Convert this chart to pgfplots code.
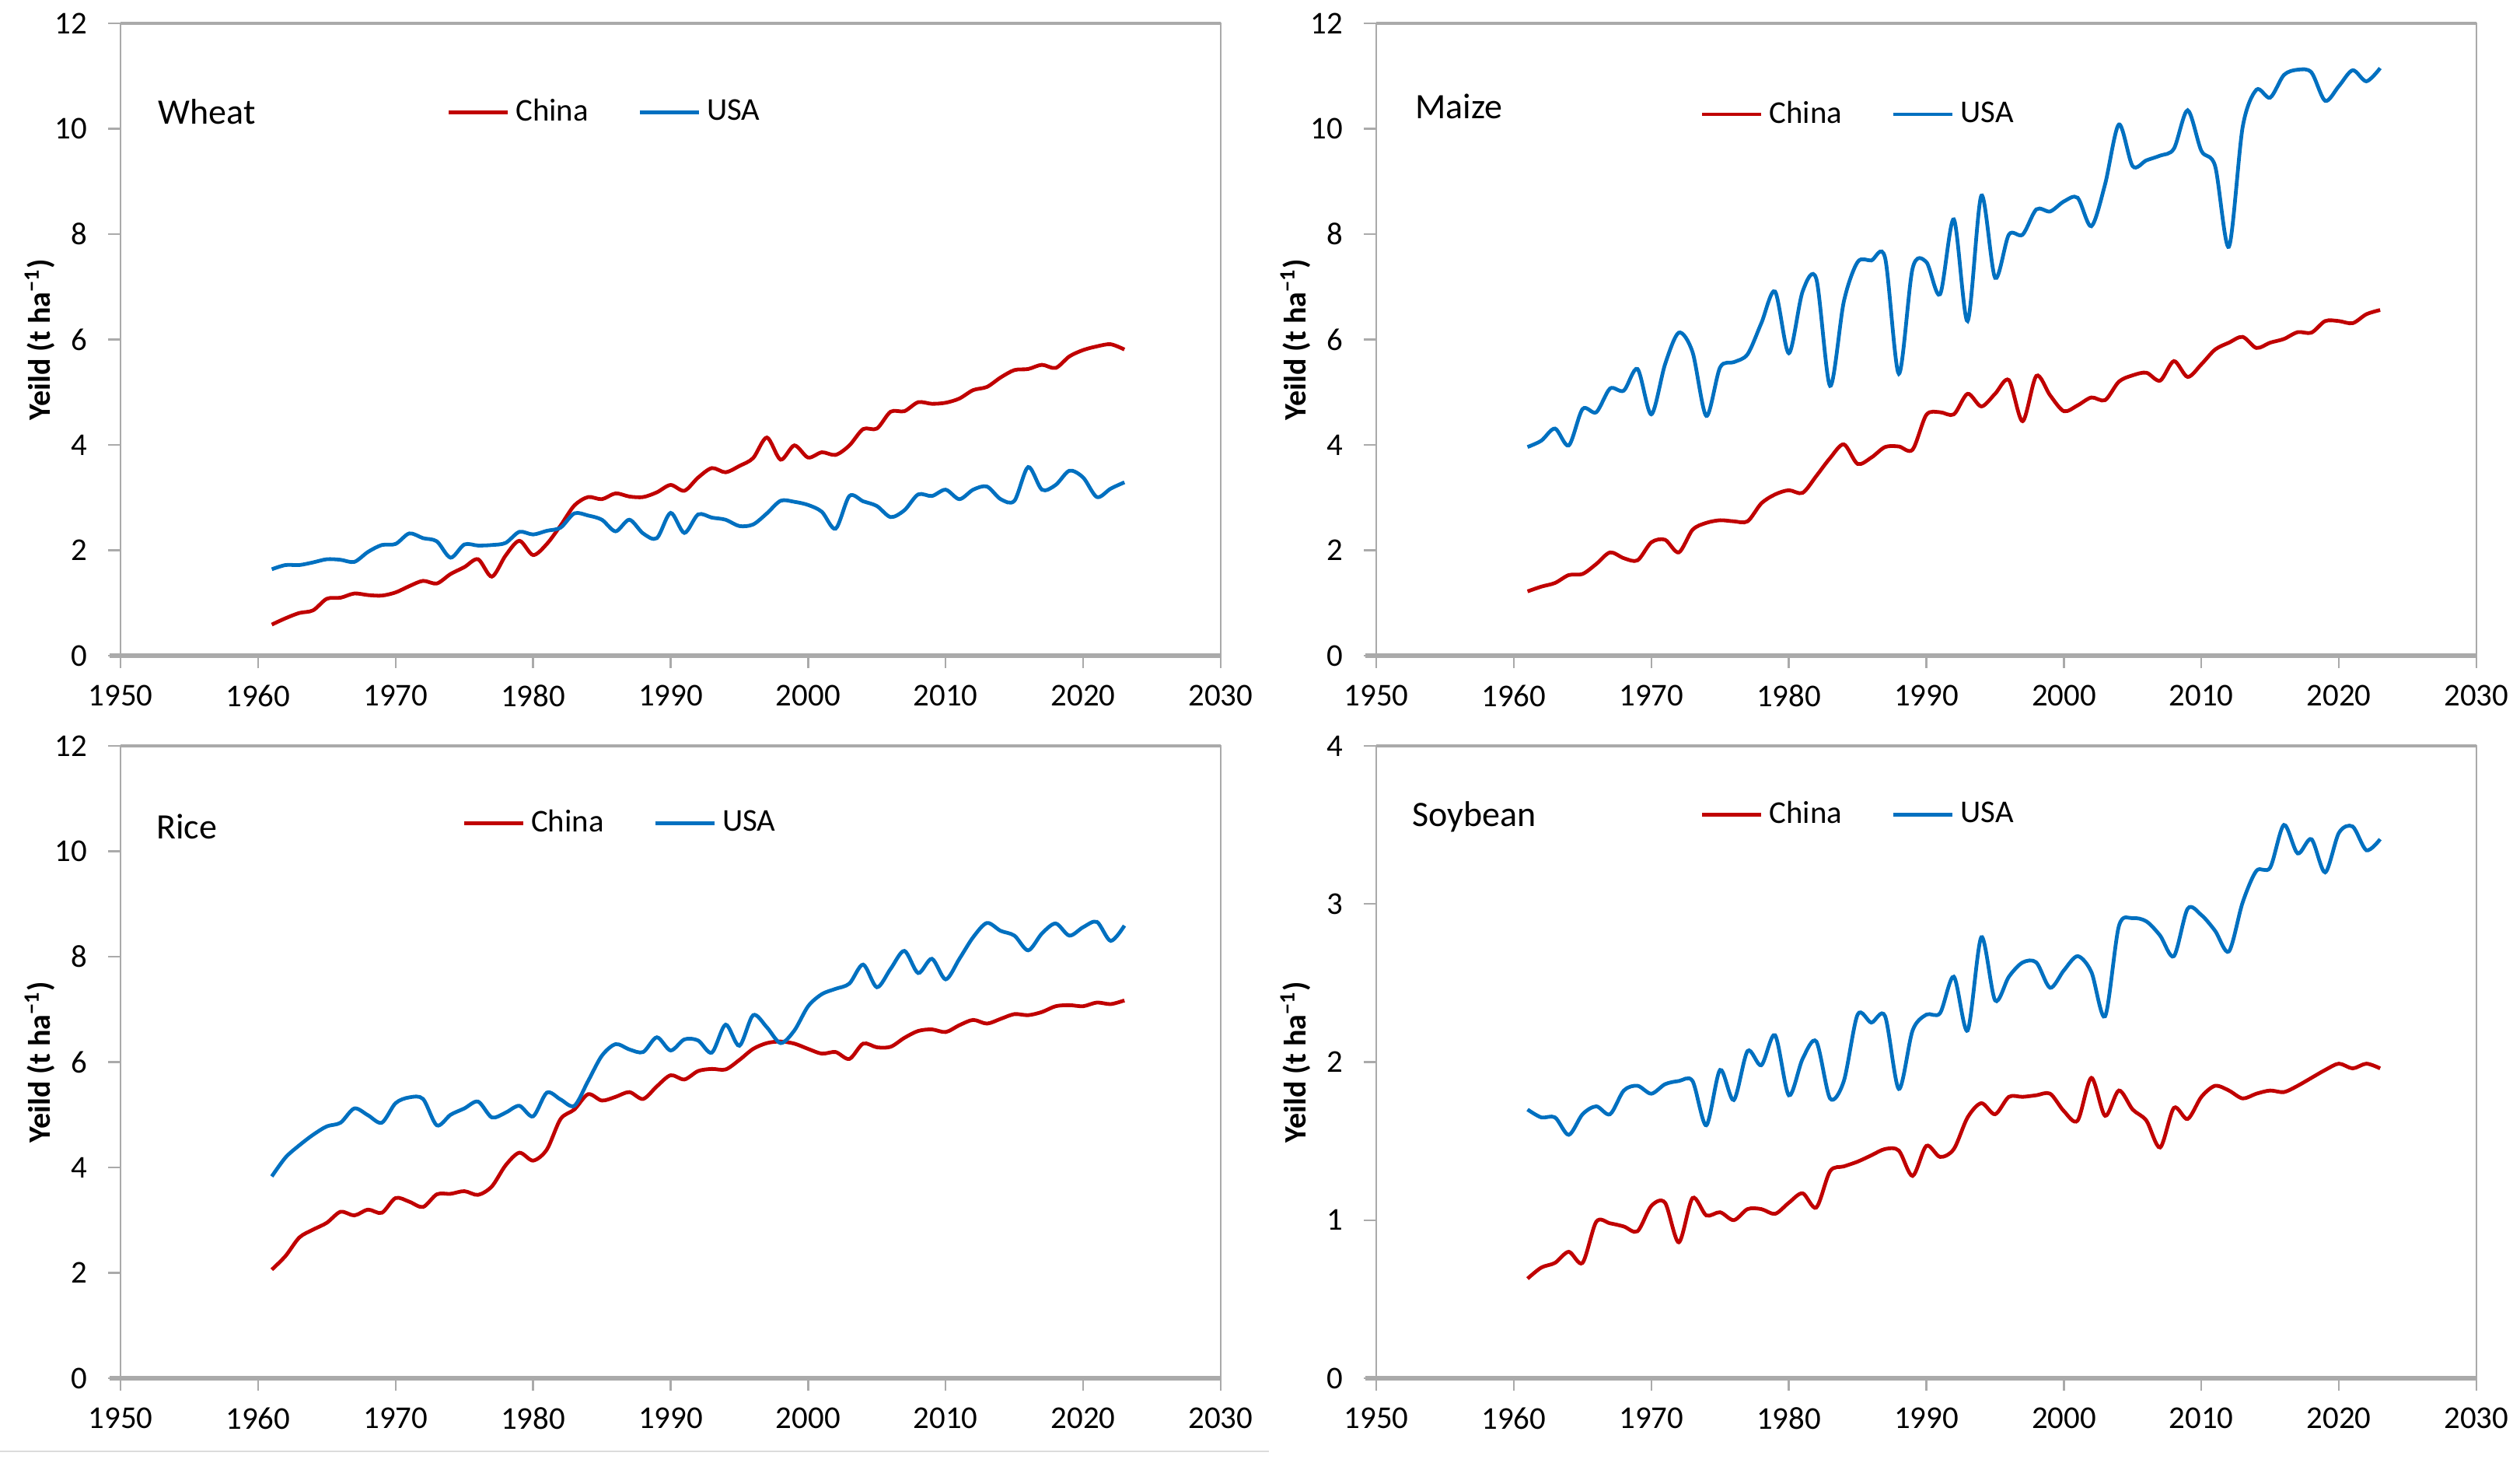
\documentclass[border=0pt]{standalone}
\usepackage{fontspec}
\setmainfont{Carlito}
\usepackage{pgfplots}
\usepackage{pgfplotstable}
\pgfplotsset{compat=1.18}

\definecolor{cnred}{RGB}{192,0,0}
\definecolor{usblue}{RGB}{0,112,192}
\definecolor{axgray}{RGB}{170,170,170}
\definecolor{edgegray}{RGB}{220,220,220}

% year, China, USA (t/ha)
\pgfplotstableread{
year china usa
1961 0.59 1.64
1962 0.71 1.72
1963 0.81 1.72
1964 0.86 1.77
1965 1.08 1.83
1966 1.10 1.82
1967 1.18 1.78
1968 1.15 1.97
1969 1.14 2.10
1970 1.20 2.12
1971 1.32 2.32
1972 1.42 2.23
1973 1.37 2.17
1974 1.55 1.86
1975 1.68 2.11
1976 1.83 2.09
1977 1.50 2.10
1978 1.90 2.14
1979 2.18 2.35
1980 1.91 2.30
1981 2.12 2.37
1982 2.47 2.43
1983 2.85 2.70
1984 3.01 2.66
1985 2.97 2.58
1986 3.08 2.36
1987 3.02 2.58
1988 3.01 2.32
1989 3.10 2.23
1990 3.24 2.71
1991 3.13 2.33
1992 3.38 2.68
1993 3.56 2.62
1994 3.48 2.58
1995 3.60 2.46
1996 3.75 2.49
1997 4.14 2.70
1998 3.72 2.94
1999 3.99 2.92
2000 3.76 2.86
2001 3.86 2.73
2002 3.81 2.41
2003 3.99 3.03
2004 4.30 2.93
2005 4.31 2.84
2006 4.63 2.63
2007 4.64 2.76
2008 4.81 3.06
2009 4.78 3.03
2010 4.80 3.15
2011 4.88 2.97
2012 5.04 3.15
2013 5.10 3.21
2014 5.28 2.97
2015 5.42 2.94
2016 5.44 3.58
2017 5.52 3.15
2018 5.46 3.24
2019 5.68 3.51
2020 5.80 3.38
2021 5.87 3.01
2022 5.91 3.17
2023 5.81 3.29
}\wheat

\pgfplotstableread{
year china usa
1961 1.22 3.96
1962 1.31 4.08
1963 1.38 4.31
1964 1.53 3.99
1965 1.55 4.68
1966 1.74 4.62
1967 1.96 5.07
1968 1.85 5.03
1969 1.81 5.44
1970 2.15 4.58
1971 2.20 5.53
1972 1.96 6.13
1973 2.39 5.76
1974 2.52 4.55
1975 2.57 5.47
1976 2.55 5.57
1977 2.55 5.72
1978 2.89 6.31
1979 3.06 6.91
1980 3.14 5.74
1981 3.09 6.91
1982 3.41 7.15
1983 3.75 5.12
1984 4.01 6.72
1985 3.64 7.47
1986 3.76 7.50
1987 3.96 7.55
1988 3.97 5.35
1989 3.91 7.35
1990 4.57 7.47
1991 4.62 6.86
1992 4.58 8.28
1993 4.97 6.35
1994 4.73 8.73
1995 4.97 7.17
1996 5.23 7.99
1997 4.45 7.99
1998 5.31 8.47
1999 4.94 8.43
2000 4.64 8.62
2001 4.75 8.69
2002 4.90 8.15
2003 4.85 8.95
2004 5.20 10.08
2005 5.32 9.29
2006 5.37 9.40
2007 5.22 9.49
2008 5.59 9.62
2009 5.29 10.35
2010 5.53 9.58
2011 5.81 9.29
2012 5.94 7.76
2013 6.05 10.03
2014 5.84 10.74
2015 5.94 10.59
2016 6.01 11.02
2017 6.14 11.12
2018 6.13 11.07
2019 6.35 10.53
2020 6.35 10.81
2021 6.31 11.11
2022 6.48 10.90
2023 6.56 11.15
}\maize

\pgfplotstableread{
year china usa
1961 2.06 3.83
1962 2.32 4.19
1963 2.67 4.42
1964 2.82 4.62
1965 2.95 4.78
1966 3.16 4.85
1967 3.09 5.12
1968 3.20 4.99
1969 3.14 4.85
1970 3.42 5.22
1971 3.35 5.33
1972 3.25 5.30
1973 3.49 4.80
1974 3.50 5.00
1975 3.55 5.12
1976 3.48 5.25
1977 3.64 4.95
1978 4.04 5.04
1979 4.28 5.17
1980 4.13 4.97
1981 4.34 5.42
1982 4.92 5.29
1983 5.10 5.17
1984 5.39 5.64
1985 5.27 6.12
1986 5.34 6.34
1987 5.43 6.24
1988 5.30 6.19
1989 5.54 6.47
1990 5.75 6.22
1991 5.67 6.43
1992 5.83 6.41
1993 5.87 6.18
1994 5.86 6.71
1995 6.04 6.31
1996 6.25 6.89
1997 6.36 6.66
1998 6.39 6.36
1999 6.35 6.60
2000 6.25 7.06
2001 6.16 7.29
2002 6.19 7.39
2003 6.06 7.49
2004 6.35 7.85
2005 6.28 7.42
2006 6.29 7.77
2007 6.46 8.11
2008 6.59 7.69
2009 6.62 7.96
2010 6.57 7.57
2011 6.70 7.96
2012 6.80 8.37
2013 6.73 8.64
2014 6.82 8.49
2015 6.91 8.40
2016 6.89 8.12
2017 6.95 8.44
2018 7.06 8.63
2019 7.08 8.40
2020 7.06 8.56
2021 7.13 8.66
2022 7.10 8.30
2023 7.17 8.59
}\rice

\pgfplotstableread{
year china usa
1961 0.63 1.70
1962 0.70 1.65
1963 0.73 1.65
1964 0.80 1.54
1965 0.73 1.67
1966 0.99 1.72
1967 0.98 1.67
1968 0.96 1.82
1969 0.93 1.85
1970 1.09 1.80
1971 1.11 1.86
1972 0.86 1.88
1973 1.14 1.88
1974 1.03 1.60
1975 1.05 1.95
1976 1.00 1.76
1977 1.07 2.07
1978 1.07 1.98
1979 1.04 2.17
1980 1.11 1.79
1981 1.17 2.02
1982 1.08 2.13
1983 1.31 1.77
1984 1.34 1.88
1985 1.37 2.30
1986 1.41 2.25
1987 1.45 2.29
1988 1.44 1.83
1989 1.28 2.20
1990 1.47 2.30
1991 1.40 2.31
1992 1.45 2.54
1993 1.65 2.20
1994 1.74 2.79
1995 1.67 2.39
1996 1.78 2.54
1997 1.78 2.63
1998 1.79 2.63
1999 1.80 2.47
2000 1.69 2.58
2001 1.63 2.67
2002 1.90 2.57
2003 1.66 2.29
2004 1.82 2.86
2005 1.70 2.91
2006 1.63 2.89
2007 1.46 2.80
2008 1.71 2.67
2009 1.64 2.97
2010 1.78 2.93
2011 1.85 2.83
2012 1.82 2.70
2013 1.77 3.01
2014 1.80 3.21
2015 1.82 3.23
2016 1.81 3.50
2017 1.85 3.32
2018 1.90 3.41
2019 1.95 3.20
2020 1.99 3.45
2021 1.96 3.49
2022 1.99 3.34
2023 1.96 3.41
}\soy

\pgfplotsset{
  crop/.style={
    scale only axis, width=353.75bp, height=203.25bp,
    anchor=south west, clip=false,
    xmin=1950, xmax=2030, ymin=0,
    xtick={1950,1960,...,2030},
    /pgf/number format/1000 sep={},
    /pgf/number format/assume math mode=true,
    tick label style={font=\fontsize{10.2bp}{12bp}\selectfont},
    xticklabel style={yshift=-1.9bp},
    yticklabel style={xshift=-3.3bp},
    tick align=outside, tick pos=left, major tick length=4bp,
    tick style={draw=axgray, line width=0.6bp},
    axis line style={draw=axgray, line width=0.6bp},
    ylabel={Yeild (t ha\textsuperscript{\textminus1})},
    ylabel style={at={(axis description cs:-0.0735,0.5)}, anchor=center,
      font=\bfseries\fontsize{10bp}{12bp}\selectfont},
    legend columns=2,
    legend image code/.code={\draw[#1] (0bp,0bp) -- (19bp,0bp);},
    legend style={draw=none, fill=none, inner sep=0pt, anchor=west,
      column sep=0bp, font=\fontsize{10.2bp}{12bp}\selectfont},
  },
  cn/.style={color=cnred, line width=1.2bp, smooth, tension=0.5},
  us/.style={color=usblue, line width=1.2bp, smooth, tension=0.5},
}

\newcommand{\frameit}{%
  \draw[axgray, line width=1.3bp] ([xshift=-3.5bp]rel axis cs:0,0) -- (rel axis cs:1,0);
  \draw[axgray, line width=0.9bp] (rel axis cs:0,1) -- (rel axis cs:1,1);
  \draw[axgray, line width=0.6bp] (rel axis cs:1,0) -- (rel axis cs:1,1);
}
\newcommand{\croptitle}[3]{%
  \node[anchor=west, inner sep=0pt, font=\fontsize{11.5bp}{13bp}\selectfont]
    at (rel axis cs:#1,#2) {#3};
}

\begin{document}
\begin{tikzpicture}
\path[use as bounding box] (0,0) rectangle (810.25bp,-470.25bp);
\draw[edgegray, line width=0.5bp] (0bp,-466.5bp) -- (408bp,-466.5bp);

% Wheat
\begin{axis}[crop, at={(38.75bp,-210.75bp)}, ymax=12, ytick={0,2,...,12},
  legend style={at={(rel axis cs:0.296,0.859)}}]
  \addplot[cn] table[x=year, y=china] {\wheat};
  \addlegendentry{China\kern13.9bp}
  \addplot[us] table[x=year, y=usa] {\wheat};
  \addlegendentry{USA}
  \frameit
  \croptitle{0.034}{0.860}{Wheat}
\end{axis}

% Maize
\begin{axis}[crop, at={(442.5bp,-210.75bp)}, ymax=12, ytick={0,2,...,12},
  legend style={at={(rel axis cs:0.294,0.856)}}]
  \addplot[cn] table[x=year, y=china] {\maize};
  \addlegendentry{China\kern13.9bp}
  \addplot[us] table[x=year, y=usa] {\maize};
  \addlegendentry{USA}
  \frameit
  \croptitle{0.035}{0.868}{Maize}
\end{axis}

% Rice
\begin{axis}[crop, at={(38.75bp,-443bp)}, ymax=12, ytick={0,2,...,12},
  legend style={at={(rel axis cs:0.31,0.878)}}]
  \addplot[cn] table[x=year, y=china] {\rice};
  \addlegendentry{China\kern13.9bp}
  \addplot[us] table[x=year, y=usa] {\rice};
  \addlegendentry{USA}
  \frameit
  \croptitle{0.032}{0.872}{Rice}
\end{axis}

% Soybean
\begin{axis}[crop, at={(442.5bp,-443bp)}, ymax=4, ytick={0,1,...,4},
  legend style={at={(rel axis cs:0.294,0.891)}}]
  \addplot[cn] table[x=year, y=china] {\soy};
  \addlegendentry{China\kern13.9bp}
  \addplot[us] table[x=year, y=usa] {\soy};
  \addlegendentry{USA}
  \frameit
  \croptitle{0.032}{0.888}{Soybean}
\end{axis}
\end{tikzpicture}
\end{document}
